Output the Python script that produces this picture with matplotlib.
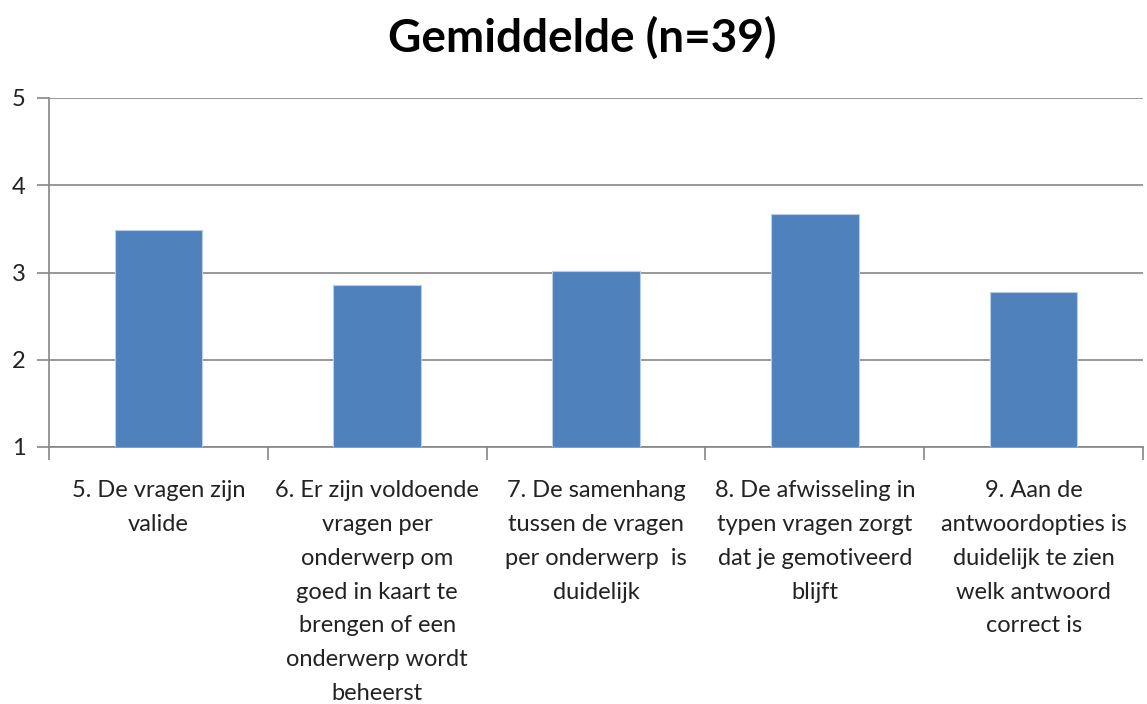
import matplotlib
matplotlib.use("Agg")
import matplotlib.pyplot as plt
import numpy as np

# Data
vragen = ["5. De vragen zijn\nvalide",
          "6. Er zijn voldoende\nvragen per\nonderwerp om\ngoed in kaart te\nbrengen of een\nonderwerp wordt\nbeheerst",
          "7. De samenhang\ntussen de vragen\nper onderwerp  is\nduidelijk",
          "8. De afwisseling in\ntypen vragen zorgt\ndat je gemotiveerd\nblijft",
          "9. Aan de\nantwoordopties is\nduidelijk te zien\nwelk antwoord\ncorrect is"]
gemiddelde = [3.49, 2.86, 3.02, 3.67, 2.78]
yticks = [1, 2, 3, 4, 5]

plt.rcParams['font.family'] = ['Lato', 'DejaVu Sans']

fig = plt.figure(figsize=(11.47, 7.04), dpi=100)
ax = fig.add_axes([49/1147, 1-447/704, (1143-49)/1147, (447-98)/704])

x = np.arange(len(vragen))
ax.bar(x, [g - 1 for g in gemiddelde], bottom=1, width=0.4,
       color='#4F81BD', edgecolor='#B9CDE5', linewidth=0.8, zorder=3)

ax.set_xlim(-0.5, len(vragen) - 0.5)
ax.set_ylim(1, 5)
ax.set_yticks(yticks)
ax.set_yticklabels([str(t) for t in yticks], fontsize=17, color='#222222')
ax.yaxis.grid(True, color='#868686', linewidth=1.2)
ax.set_axisbelow(True)

# category boundaries as ticks, labels centred on bars
ax.set_xticks(np.arange(-0.5, len(vragen)), minor=False)
ax.set_xticklabels([])
ax.set_xticks(x, minor=True)
ax.set_xticklabels(vragen, minor=True, fontsize=17, color='#222222', linespacing=1.75)
ax.tick_params(axis='x', which='minor', length=0, pad=24)
ax.tick_params(axis='x', which='major', length=9, color='#868686', width=1.2)
ax.tick_params(axis='y', length=9, color='#868686', width=1.2, pad=8)

for s in ['top', 'right']:
    ax.spines[s].set_visible(False)
for s in ['left', 'bottom']:
    ax.spines[s].set_color('#868686')
    ax.spines[s].set_linewidth(1.2)

fig.text(582/1147, 1-38/704, 'Gemiddelde (n=39)', ha='center', va='center',
         fontsize=33, fontweight='bold', color='black')

fig.savefig('out.png', dpi=100)
